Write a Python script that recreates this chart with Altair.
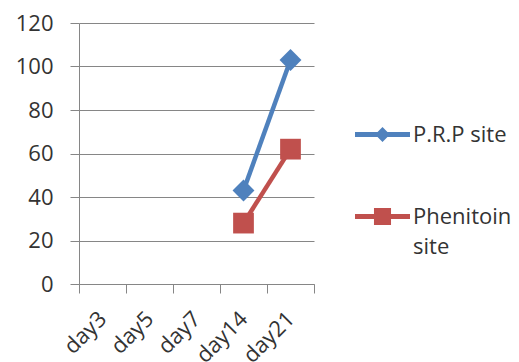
import altair as alt
import pandas as pd

# Categories and series values
days = ["day3", "day5", "day7", "day14", "day21"]
series_names = ["P.R.P site", "Phenitoin site"]
prp_values = [None, None, None, 43, 103]
phenitoin_values = [None, None, None, 28, 62]
series_colors = ["#4F81BD", "#C0504D"]
series_markers = ["diamond", "square"]
marker_sizes = [480, 430]
y_ticks = [0, 20, 40, 60, 80, 100, 120]

rows = []
for name, vals in zip(series_names, [prp_values, phenitoin_values]):
    for d, v in zip(days, vals):
        if v is not None:
            rows.append({"day": d, "value": v, "series": name})
df = pd.DataFrame(rows)

FONT = "Open Sans"
FONT_SIZE = 22
GRID = "#868686"
TEXT = "#333333"

# Legend keys: a short thick stroke with the series marker on top
key_diamond = "M-1,-0.095H1V0.095H-1Z M-0.27,0L0,-0.27L0.27,0L0,0.27Z"
key_square = "M-1,-0.095H1V0.095H-1Z M-0.31,-0.31H0.31V0.31H-0.31Z"

x_enc = alt.X(
    "day:N",
    sort=days,
    scale=alt.Scale(type="band", domain=days, paddingInner=0, paddingOuter=0),
    axis=alt.Axis(
        title=None,
        grid=False,
        tickBand="extent",
        tickSize=9,
        tickColor=GRID,
        domainColor=GRID,
        labelAngle=-45,
        labelAlign="right",
        labelBaseline="middle",
        labelPadding=22,
        labelFont=FONT,
        labelFontSize=FONT_SIZE,
        labelColor=TEXT,
    ),
)
y_enc = alt.Y(
    "value:Q",
    scale=alt.Scale(domain=[0, 120], nice=False),
    axis=alt.Axis(
        title=None,
        values=y_ticks,
        grid=True,
        gridColor=GRID,
        tickSize=9,
        tickColor=GRID,
        domainColor=GRID,
        labelPadding=17,
        labelFont=FONT,
        labelFontSize=FONT_SIZE,
        labelColor=TEXT,
    ),
)

# Per-series line and marker layers, drawn in the series colour
series_layers = []
for name, colour, marker, size in zip(series_names, series_colors, series_markers, marker_sizes):
    base = alt.Chart(df).transform_filter(alt.datum.series == name).encode(x=x_enc, y=y_enc)
    series_layers.append(base.mark_line(strokeWidth=4.5, color=colour))
    series_layers.append(
        base.mark_point(filled=True, opacity=1, shape=marker, size=size, color=colour)
    )

legend_props = dict(
    title=None,
    orient="none",
    legendX=276,
    legendY=84,
    symbolSize=3025,
    symbolStrokeWidth=0,
    labelFont=FONT,
    labelFontSize=FONT_SIZE,
    labelColor=TEXT,
    labelOffset=3,
    labelLimit=300,
    rowPadding=43,
    padding=0,
    labelExpr="datum.label == 'Phenitoin site' ? ['Phenitoin', 'site'] : datum.label",
)

# Legend-only layer: no rows drawn, scales carry the series domain
legend_layer = (
    alt.Chart(df)
    .transform_filter("false")
    .mark_point(filled=True, opacity=1)
    .encode(
        x=x_enc,
        y=y_enc,
        color=alt.Color(
            "series:N",
            scale=alt.Scale(domain=series_names, range=series_colors),
            legend=alt.Legend(**legend_props),
        ),
        shape=alt.Shape(
            "series:N",
            scale=alt.Scale(domain=series_names, range=[key_diamond, key_square]),
            legend=alt.Legend(**legend_props),
        ),
    )
)

chart = (
    alt.layer(*series_layers, legend_layer)
    .properties(
        width=235,
        height=261,
        padding={"left": 79, "top": 23, "right": 205, "bottom": 78},
        autosize=alt.AutoSizeParams(type="none"),
        background="white",
    )
    .configure(style={"guide-label": {"lineHeight": 30}})
    .configure_view(stroke=None)
)

chart.save("out.html", embed_options={"renderer": "svg", "actions": False})
